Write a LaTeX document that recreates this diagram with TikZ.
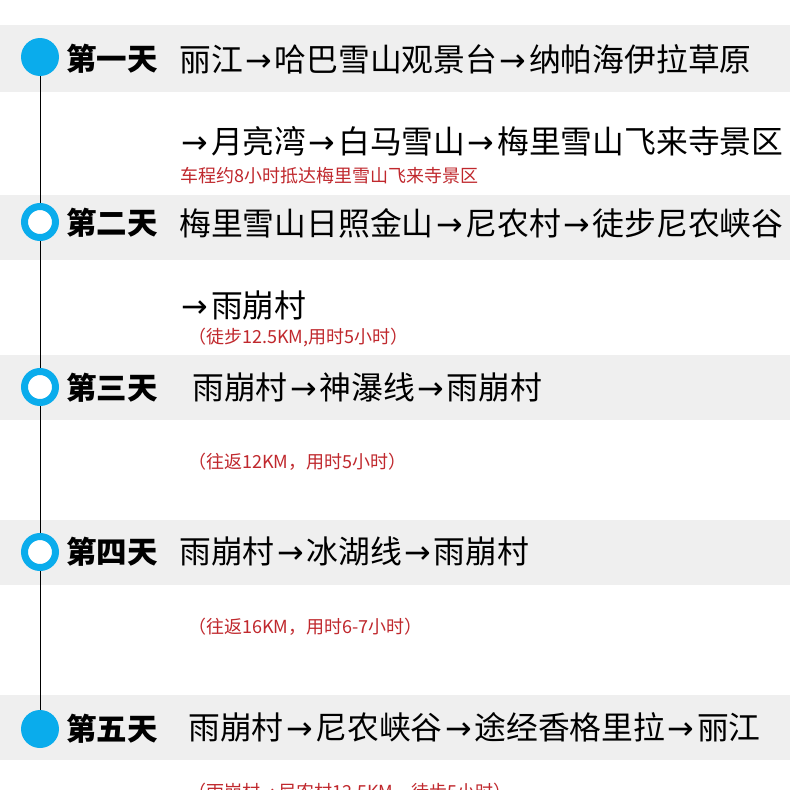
\documentclass[tikz,border=0pt]{standalone}
\usepackage{fontspec}
\newfontfamily\cjk{Noto Sans CJK SC}
\newfontfamily\arrfont{DejaVu Sans}
\newcommand{\ra}{\makebox[1em]{\arrfont →}}
\usetikzlibrary{backgrounds}
\definecolor{bandgrey}{HTML}{EFEFEF}
\definecolor{dotblue}{HTML}{0AACEC}
\definecolor{notered}{HTML}{C0282D}
\begin{document}
\begin{tikzpicture}[x=1pt,y=-1pt,
  band/.style={fill=bandgrey},
  dotfull/.style={circle,fill=dotblue,minimum size=38pt,inner sep=0pt},
  dotring/.style={circle,draw=dotblue,line width=7pt,fill=white,minimum size=31pt,inner sep=0pt},
  daylabel/.style={anchor=west,inner sep=0pt,font=\cjk\bfseries\fontsize{30.5}{30.5}\selectfont},
  route/.style={anchor=west,inner sep=0pt,font=\cjk\fontsize{31.8}{31.8}\selectfont},
  note/.style={anchor=west,inner sep=0pt,text=notered,font=\cjk\fontsize{18}{18}\selectfont},
  spine/.style={line width=1pt,black}]
\useasboundingbox (0,0) rectangle (790,790);
\clip (0,0) rectangle (790,790);
\begin{pgfonlayer}{background}
\fill[white] (0,0) rectangle (790,790);
\fill[band] (0,25) rectangle (790,92);
\fill[band] (0,195) rectangle (790,260);
\fill[band] (0,355) rectangle (790,420);
\fill[band] (0,520) rectangle (790,585);
\fill[band] (0,695) rectangle (790,760);
\end{pgfonlayer}
% circles
\node[dotfull] (c1) at (40,57) {};
\node[dotring] (c2) at (40,222) {};
\node[dotring] (c3) at (40,387) {};
\node[dotring] (c4) at (40,552) {};
\node[dotfull] (c5) at (40,729) {};
\begin{pgfonlayer}{background}
\draw[spine] (c1.center) -- (c5.center);
\end{pgfonlayer}
% day 1
\node[daylabel] (d1) at (66,59) {第一天};
\node[route] (r1a) at (179,59) {丽江\ra 哈巴雪山观景台\ra 纳帕海伊拉草原};
\node[route] (r1b) at (179,141) {\ra 月亮湾\ra 白马雪山\ra 梅里雪山飞来寺景区};
\node[note] (n1) at (180,176) {车程约8小时抵达梅里雪山飞来寺景区};
% day 2
\node[daylabel] (d2) at (66,223) {第二天};
\node[route] (r2a) at (179,223) {梅里雪山日照金山\ra 尼农村\ra 徒步尼农峡谷};
\node[route] (r2b) at (179,305) {\ra 雨崩村};
\node[note] (n2) at (188,338) {（徒步12.5KM,用时5小时）};
% day 3
\node[daylabel] (d3) at (66,388) {第三天};
\node[route] (r3a) at (192,387) {雨崩村\ra 神瀑线\ra 雨崩村};
\node[note] (n3) at (188,462) {（往返12KM，用时5小时）};
% day 4
\node[daylabel] (d4) at (66,552) {第四天};
\node[route] (r4a) at (179,551) {雨崩村\ra 冰湖线\ra 雨崩村};
\node[note] (n4) at (188,627) {（往返16KM，用时6-7小时）};
% day 5
\node[daylabel] (d5) at (66,729) {第五天};
\node[route] (r5a) at (188,727) {雨崩村\ra 尼农峡谷\ra 途经香格里拉\ra 丽江};
\node[note] (n5) at (188,792) {（雨崩村\ra 尼农村12.5KM，徒步5小时）};
\end{tikzpicture}
\end{document}
